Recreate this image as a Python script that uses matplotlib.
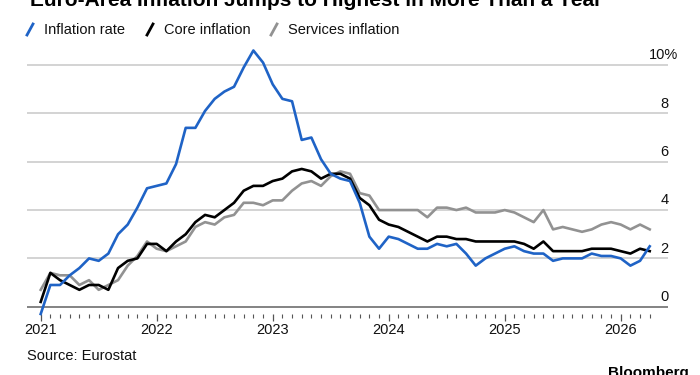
import numpy as np
import matplotlib
matplotlib.use('Agg')
import matplotlib.pyplot as plt
from matplotlib.lines import Line2D
import matplotlib.transforms as mtransforms

plt.rcParams['font.family'] = ['Liberation Sans', 'DejaVu Sans']

# Monthly readings, Dec 2020 .. Mar 2026 (yoy %)
inflation_rate = [-0.3,
                  0.9, 0.9, 1.3, 1.6, 2.0, 1.9, 2.2, 3.0, 3.4, 4.1, 4.9, 5.0,
                  5.1, 5.9, 7.4, 7.4, 8.1, 8.6, 8.9, 9.1, 9.9, 10.6, 10.1, 9.2,
                  8.6, 8.5, 6.9, 7.0, 6.1, 5.5, 5.3, 5.2, 4.3, 2.9, 2.4, 2.9,
                  2.8, 2.6, 2.4, 2.4, 2.6, 2.5, 2.6, 2.2, 1.7, 2.0, 2.2, 2.4,
                  2.5, 2.3, 2.2, 2.2, 1.9, 2.0, 2.0, 2.0, 2.2, 2.1, 2.1, 2.0,
                  1.7, 1.9, 2.5]
core_inflation = [0.2,
                  1.4, 1.1, 0.9, 0.7, 0.9, 0.9, 0.7, 1.6, 1.9, 2.0, 2.6, 2.6,
                  2.3, 2.7, 3.0, 3.5, 3.8, 3.7, 4.0, 4.3, 4.8, 5.0, 5.0, 5.2,
                  5.3, 5.6, 5.7, 5.6, 5.3, 5.5, 5.5, 5.3, 4.5, 4.2, 3.6, 3.4,
                  3.3, 3.1, 2.9, 2.7, 2.9, 2.9, 2.8, 2.8, 2.7, 2.7, 2.7, 2.7,
                  2.7, 2.6, 2.4, 2.7, 2.3, 2.3, 2.3, 2.3, 2.4, 2.4, 2.4, 2.3,
                  2.2, 2.4, 2.3]
services_inflation = [0.7,
                      1.4, 1.3, 1.3, 0.9, 1.1, 0.7, 0.9, 1.1, 1.7, 2.1, 2.7, 2.4,
                      2.3, 2.5, 2.7, 3.3, 3.5, 3.4, 3.7, 3.8, 4.3, 4.3, 4.2, 4.4,
                      4.4, 4.8, 5.1, 5.2, 5.0, 5.4, 5.6, 5.5, 4.7, 4.6, 4.0, 4.0,
                      4.0, 4.0, 4.0, 3.7, 4.1, 4.1, 4.0, 4.1, 3.9, 3.9, 3.9, 4.0,
                      3.9, 3.7, 3.5, 4.0, 3.2, 3.3, 3.2, 3.1, 3.2, 3.4, 3.5, 3.4,
                      3.2, 3.4, 3.2]
years = ['2021', '2022', '2023', '2024', '2025', '2026']
yticks = [0, 2, 4, 6, 8, 10]

months = np.arange(len(inflation_rate))

blue = '#1f63c6'
grey = '#929292'

fig = plt.figure(figsize=(7, 3.75), dpi=100)
ax = fig.add_axes([27/700, 1 - 314/375, 641/700, (314 - 45)/375])

for v in yticks:
    if v == 0:
        ax.axhline(v, color='#7a7a7a', lw=1.3, zorder=1)
    else:
        ax.axhline(v, color='#c8c8c8', lw=1.1, zorder=1)

ax.plot(months, services_inflation, color=grey, lw=1.9, zorder=3, clip_on=False)
ax.plot(months, core_inflation, color='black', lw=1.9, zorder=4, clip_on=False)
ax.plot(months, inflation_rate, color=blue, lw=1.9, zorder=5, clip_on=False)

ax.set_xlim((27 - 40.7)/9.667, (668 - 40.7)/9.667)
ax.set_ylim(-0.3, (306.7 - 45)/24.17)

for s in ax.spines.values():
    s.set_visible(False)

ax.set_xticks(np.arange(0, len(years)*12, 12))
ax.set_xticklabels(years)
ax.set_xticks(months, minor=True)
ax.tick_params(axis='x', which='major', length=5, width=0.9, color='#555555',
               labelsize=10.5, pad=1.5, labelcolor='#111111')
ax.tick_params(axis='x', which='minor', length=2.8, width=0.8, color='#555555')
ax.set_yticks([])

# right-hand value labels sitting just above the grid lines
tr = mtransforms.blended_transform_factory(ax.transAxes, ax.transData)
off = mtransforms.offset_copy(tr, fig=fig, x=0.5, y=2, units='points')
off_pct = mtransforms.offset_copy(tr, fig=fig, x=7.0, y=2, units='points')
for v in yticks:
    if v == yticks[-1]:
        ax.text(1.0, v, f'{v}%', transform=off_pct, ha='right', va='bottom',
                fontsize=10.5, color='#111111')
    else:
        ax.text(1.0, v, str(v), transform=off, ha='right', va='bottom',
                fontsize=10.5, color='#111111')

# title, cropped at top like the reference
fig.text(30/700, 1 - 6/375, 'Euro-Area Inflation Jumps to Highest in More Than a Year',
         fontsize=15, fontweight='bold', ha='left', va='baseline', color='black')

# legend row
labels = ['Inflation rate', 'Core inflation', 'Services inflation']
colors = [blue, 'black', grey]
lx = [27, 147, 271]
for x0, lab, c in zip(lx, labels, colors):
    fig.add_artist(Line2D([x0/700, (x0 + 6)/700], [1 - 35/375, 1 - 24/375],
                          color=c, lw=2, transform=fig.transFigure))
    fig.text((x0 + 17)/700, 1 - 30/375, lab, fontsize=10.5, ha='left',
             va='center', color='#111111')

fig.text(27/700, 1 - 356/375, 'Source: Eurostat', fontsize=10.5, ha='left',
         va='center', color='#111111')
fig.text(689/700, 1 - 366/375, 'Bloomberg', fontsize=11, fontweight='bold',
         ha='right', va='top', color='black')

fig.savefig('out.png', dpi=100)
